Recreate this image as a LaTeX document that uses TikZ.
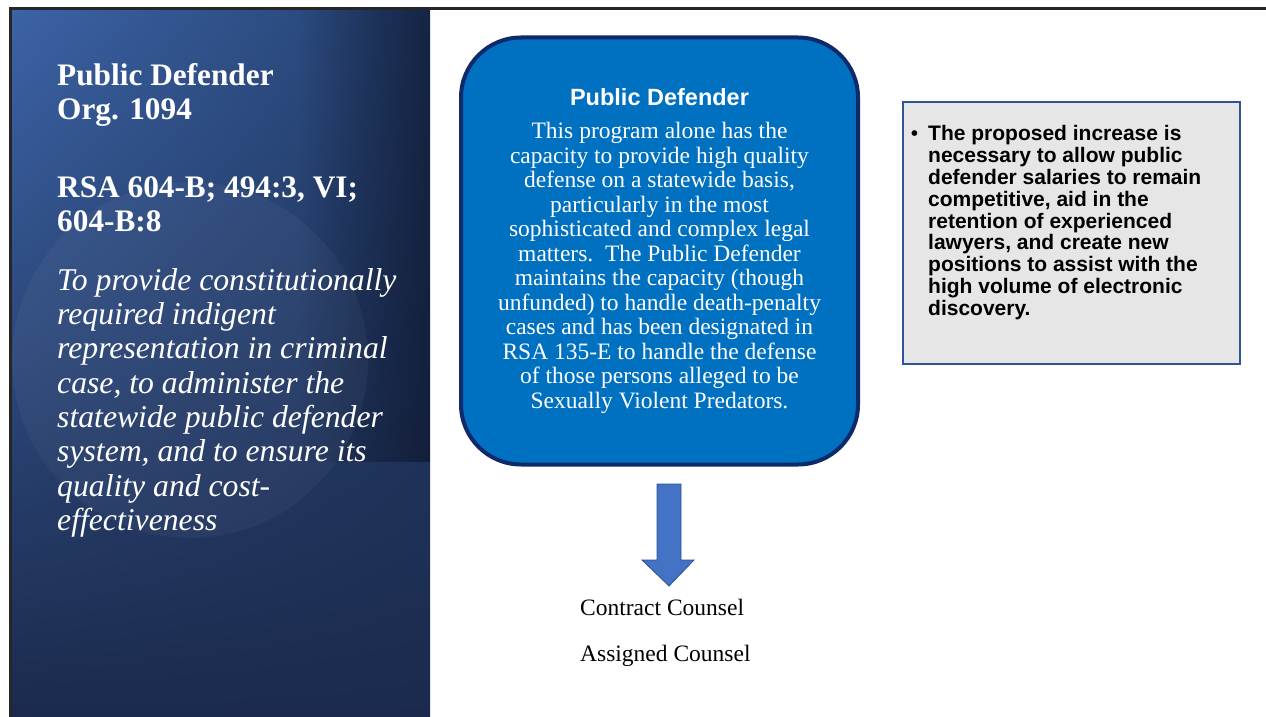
\documentclass[tikz,border=0pt]{standalone}
\usepackage{fontspec}
\setmainfont{Liberation Serif}
\newfontfamily\arialfont{Liberation Sans}
\usetikzlibrary{positioning, fadings, shadings}
\definecolor{panelhi}{HTML}{3C63A6}
\definecolor{panelmid}{HTML}{24406F}
\definecolor{panello}{HTML}{1B2A4C}
\definecolor{panelshadow}{HTML}{0C1226}
\definecolor{pdblue}{HTML}{0070C0}
\definecolor{pdnavy}{HTML}{0F2A6A}
\definecolor{notegray}{HTML}{E7E6E6}
\definecolor{noteedge}{HTML}{2F5597}
\definecolor{arrowblue}{HTML}{4472C4}
\definecolor{arrowedge}{HTML}{2F528F}
\tikzfading[name=fadetoright, left color=transparent!100, right color=transparent!0]
\tikzset{
  lefthead/.style={text=white, font=\bfseries\fontsize{31.3}{34}\selectfont, align=left, inner sep=0pt},
  mission/.style={text=white, font=\itshape\fontsize{31.7}{34.3}\selectfont, align=left, inner sep=0pt},
  pdbox/.style={draw=pdnavy, fill=pdblue, line width=4pt, rounded corners=60pt, text=white,
    minimum width=397pt, minimum height=427pt, align=center, font=\fontsize{23.5}{24.5}\selectfont},
  notebox/.style={draw=noteedge, fill=notegray, line width=1.2pt, minimum width=337pt, minimum height=262pt},
  notetext/.style={align=left, inner sep=0pt, font=\arialfont\bfseries\fontsize{21}{21.9}\selectfont},
  counsel/.style={font=\fontsize{23.5}{26}\selectfont, inner sep=0pt, anchor=west}
}
\begin{document}
\begin{tikzpicture}[x=1pt, y=-1pt]
\useasboundingbox (0,0) rectangle (1266,717);
% left panel
\shade[upper left=panelhi, upper right=panelmid, lower left=panello, lower right=panello] (11.5,10) rectangle (430,717);
\fill[panelshadow, path fading=fadetoright, opacity=0.6] (300,10) rectangle (430,462);
\fill[white, opacity=0.04] (190,360) circle (178);
\draw[line width=3pt, black!85] (10,717) -- (10,8.5) -- (1266,8.5);
\node[lefthead, anchor=north west] (orgname) at (57,63) {Public Defender\\Org. 1094};
\node[lefthead, anchor=north west] (rsaref) at (57,176) {RSA 604-B; 494:3, VI;\\604-B:8};
\node[mission, anchor=north west] (mission) at (57,268) {To provide constitutionally\\required indigent\\representation in criminal\\case, to administer the\\statewide public defender\\system, and to ensure its\\quality and cost-\\effectiveness};
% program box
\node[pdbox] (pdbox) at (659.5,251) {{\arialfont\bfseries\fontsize{23.5}{26}\selectfont Public Defender}\\[9pt]
This program alone has the\\capacity to provide high quality\\defense on a statewide basis,\\particularly in the most\\sophisticated and complex legal\\matters.\ \ The Public Defender\\maintains the capacity (though\\unfunded) to handle death-penalty\\cases and has been designated in\\RSA 135-E to handle the defense\\of those persons alleged to be\\Sexually Violent Predators.};
% note
\node[notebox] (note) at (1071.5,233) {};
\node[notetext, anchor=north west] (notetxt) at (928,125) {\llap{\mdseries\textbullet\hspace{10pt}}The proposed increase is\\necessary to allow public\\defender salaries to remain\\competitive, aid in the\\retention of experienced\\lawyers, and create new\\positions to assist with the\\high volume of electronic\\discovery.};
% arrow and counsel
\coordinate (arrtop) at (669,484);
\filldraw[fill=arrowblue, draw=arrowedge, line width=0.8pt] (arrtop) ++(-12,0) -- ++(24,0) -- ++(0,76) -- ++(13,0) -- (669,586) -- (642,560) -- (657,560) -- cycle;
\node[counsel] (contract) at (580,607) {Contract Counsel};
\node[counsel] (assigned) at (580,656) {Assigned Counsel};
\end{tikzpicture}
\end{document}
